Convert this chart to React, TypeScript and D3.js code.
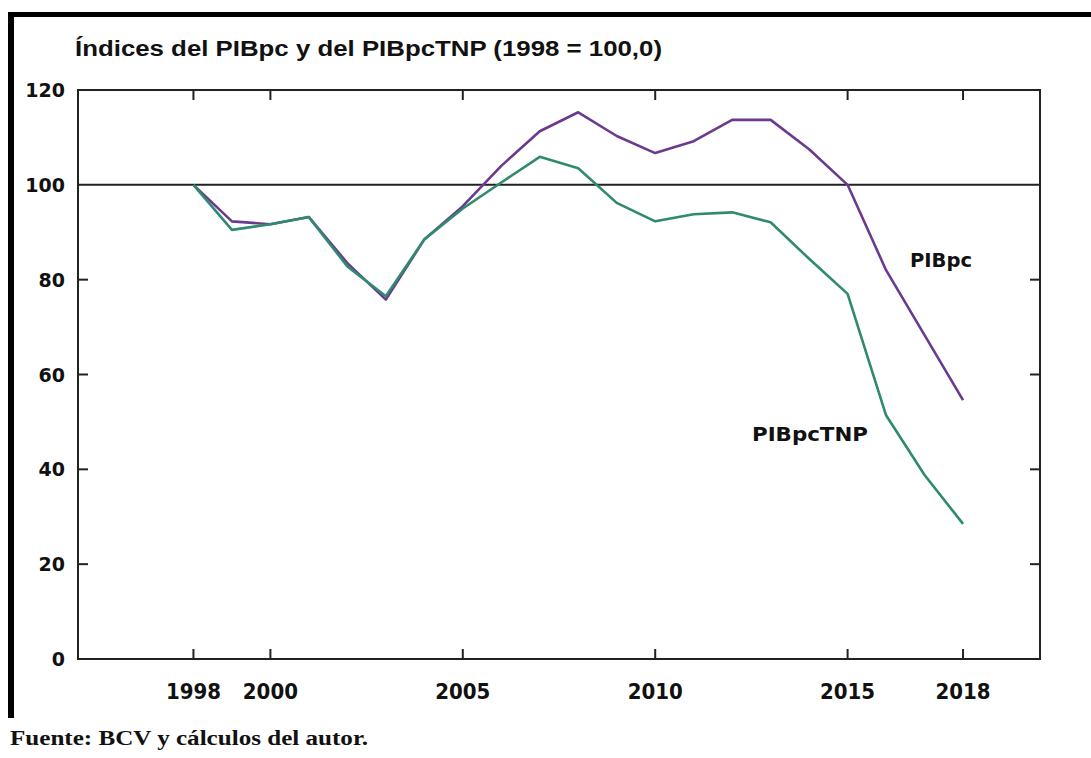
import React from 'react';
import * as d3 from 'd3';

const years = [1998, 1999, 2000, 2001, 2002, 2003, 2004, 2005, 2006, 2007, 2008, 2009, 2010, 2011, 2012, 2013, 2014, 2015, 2016, 2017, 2018];
const pibpc = [100, 92.3, 91.7, 93.2, 83.5, 75.8, 88.5, 95.5, 104, 111.3, 115.3, 110.3, 106.7, 109.2, 113.7, 113.7, 107.5, 100, 82, 68.3, 54.6];
const pibpcTnp = [100, 90.5, 91.7, 93.2, 82.8, 76.5, 88.5, 95, 100.5, 105.9, 103.5, 96.2, 92.3, 93.8, 94.2, 92.1, 84.4, 77, 51.4, 38.8, 28.5];
const xTicks = [1998, 2000, 2005, 2010, 2015, 2018];
const yTicks = [0, 20, 40, 60, 80, 100, 120];

const W = 1091;
const H = 758;
const left = 78, right = 1040, top = 90, bottom = 659;

const App: React.FC = () => {
    const x = d3.scaleLinear().domain([1995, 2020]).range([left, right]);
    const y = d3.scaleLinear().domain([0, 120]).range([bottom, top]);

    const line = d3.line<number>()
        .x((d, i) => x(years[i]))
        .y((d) => y(d));

    const tick = 10;

    return (
        <div style={{ position: 'absolute', left: 0, top: 0 }}>
            <svg width={W} height={H} style={{ display: 'block', background: '#fff' }}>
                {/* outer frame: top and left edges only show */}
                <line x1={8} x2={W} y1={14.5} y2={14.5} stroke="#000" strokeWidth={5} />
                <line x1={11} x2={11} y1={12} y2={718} stroke="#000" strokeWidth={6} />

                <text x={75} y={56} fontFamily="Liberation Sans" fontWeight="bold" fontSize={22}
                    textLength={587} lengthAdjust="spacingAndGlyphs" fill="#111">
                    Índices del PIBpc y del PIBpcTNP (1998 = 100,0)
                </text>

                {/* plot box */}
                <rect x={left} y={top} width={right - left} height={bottom - top} fill="none" stroke="#222" strokeWidth={2} />
                <line x1={left} x2={right} y1={y(100)} y2={y(100)} stroke="#222" strokeWidth={2} />

                {yTicks.filter((v) => v > 0 && v < 100).map((v) => (
                    <g key={'yt' + v}>
                        <line x1={left} x2={left + tick} y1={y(v)} y2={y(v)} stroke="#222" strokeWidth={2} />
                        <line x1={right - tick} x2={right} y1={y(v)} y2={y(v)} stroke="#222" strokeWidth={2} />
                    </g>
                ))}
                {yTicks.map((v) => (
                    <text key={'yl' + v} x={65} y={y(v) + 7} textAnchor="end" fontFamily="DejaVu Sans"
                        fontWeight="bold" fontSize={19} fill="#111">{v}</text>
                ))}

                {xTicks.map((v) => (
                    <g key={'xt' + v}>
                        <line x1={x(v)} x2={x(v)} y1={bottom} y2={bottom - tick} stroke="#222" strokeWidth={2} />
                        <line x1={x(v)} x2={x(v)} y1={top} y2={top + tick} stroke="#222" strokeWidth={2} />
                        <text x={x(v)} y={699} textAnchor="middle" fontFamily="DejaVu Sans Condensed"
                            fontWeight="bold" fontSize={22} fill="#111">{v}</text>
                    </g>
                ))}

                <path d={line(pibpc) || ''} fill="none" stroke="#6b3a8e" strokeWidth={2.6} strokeLinejoin="round" />
                <path d={line(pibpcTnp) || ''} fill="none" stroke="#2f8a70" strokeWidth={2.6} strokeLinejoin="round" />

                <text x={910} y={267} fontFamily="DejaVu Sans Condensed" fontWeight="bold" fontSize={20}
                    textLength={62} lengthAdjust="spacingAndGlyphs" fill="#111">PIBpc</text>
                <text x={752} y={441} fontFamily="DejaVu Sans Condensed" fontWeight="bold" fontSize={20}
                    textLength={116} lengthAdjust="spacingAndGlyphs" fill="#111">PIBpcTNP</text>

                <text x={10} y={745} fontFamily="Liberation Serif" fontWeight="bold" fontSize={20}
                    textLength={358} lengthAdjust="spacingAndGlyphs" fill="#111">Fuente: BCV y cálculos del autor.</text>
            </svg>
        </div>
    );
};

export default App;
